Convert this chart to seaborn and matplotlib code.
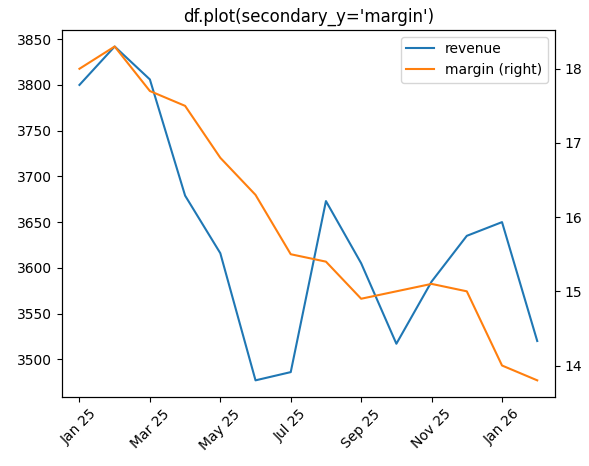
import matplotlib
matplotlib.use("Agg")
import matplotlib.pyplot as plt
import seaborn as sns
import numpy as np

months = ["Jan 25", "Feb 25", "Mar 25", "Apr 25", "May 25", "Jun 25", "Jul 25",
          "Aug 25", "Sep 25", "Oct 25", "Nov 25", "Dec 25", "Jan 26", "Feb 26"]
revenue = [3800, 3842, 3806, 3679, 3616, 3477, 3486, 3673, 3605, 3517, 3585, 3635, 3650, 3520]
margin = [18.0, 18.3, 17.7, 17.5, 16.8, 16.3, 15.5, 15.4, 14.9, 15.0, 15.1, 15.0, 14.0, 13.8]

x = np.arange(len(months))

fig, ax = plt.subplots(figsize=(5.89, 4.66), dpi=100)
sns.lineplot(x=x, y=revenue, ax=ax, color="#1f77b4", label="revenue", legend=False)
ax2 = ax.twinx()
sns.lineplot(x=x, y=margin, ax=ax2, color="#ff7f0e", label="margin (right)", legend=False)

ax.set_xticks(x[::2])
ax.set_xticklabels(months[::2], rotation=45)
ax.set_xlim(-0.5, len(months) - 0.5)
ax.set_title("df.plot(secondary_y='margin')")

h1, l1 = ax.get_legend_handles_labels()
h2, l2 = ax2.get_legend_handles_labels()
ax2.legend(h1 + h2, l1 + l2, loc="upper right")

fig.subplots_adjust(left=0.105, right=0.942, top=0.936, bottom=0.148)
fig.savefig("out.png", dpi=100)
